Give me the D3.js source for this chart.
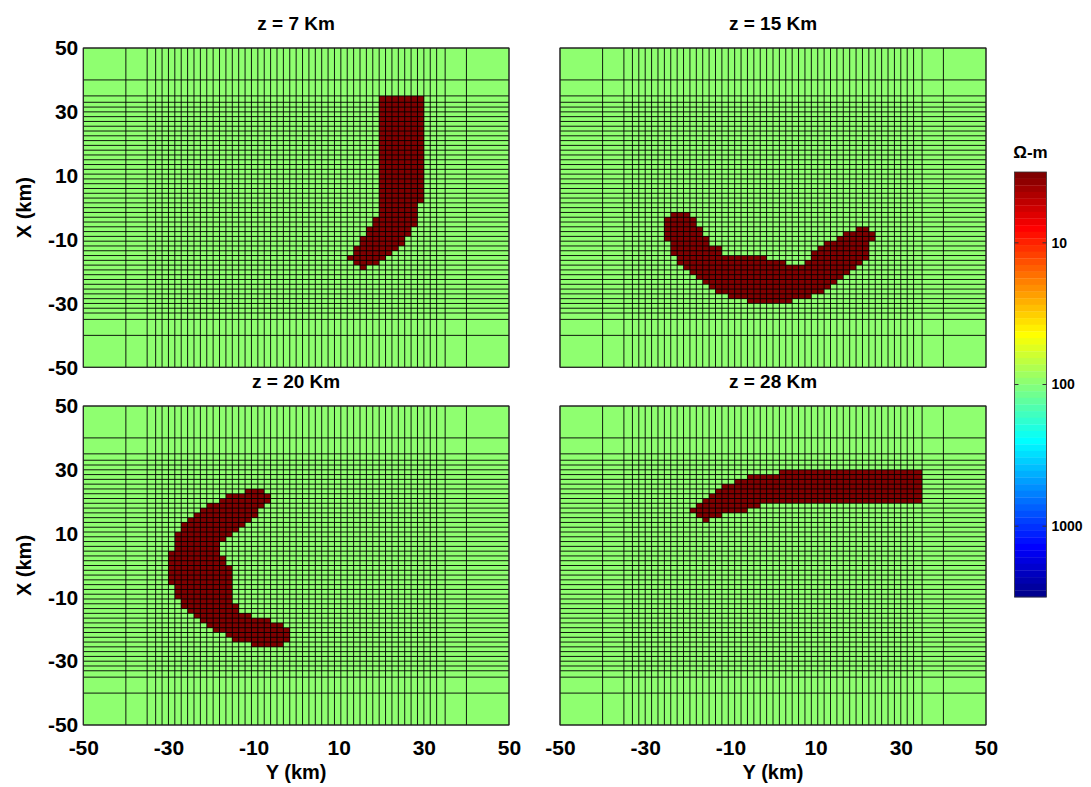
<!DOCTYPE html>
<html>
<head>
<meta charset="utf-8">
<script src="https://cdn.jsdelivr.net/npm/d3@7"></script>
<style>
  body { margin: 0; background: #fff; }
  svg { display: block; font-family: "Liberation Sans", Arial, sans-serif; font-weight: bold; }
</style>
</head>
<body>
<svg id="fig" width="1091" height="787"></svg>
<script>
// Depth slices of the resistivity model (km)
const depths = [7, 15, 20, 28];

// Mesh nodes (km), identical along X and Y: coarse padding around a 1.5 km core
const padLow = [-50, -40, -35];
const padHigh = [35, 40, 50];
const coreStep = 1.5;
const meshNodes = padLow.concat(d3.range(-33, 33 + 1e-6, coreStep), padHigh);

// Tick labels
const axisTicks = [-50, -30, -10, 10, 30, 50];
const colorTicks = [10, 100, 1000];

// Colour limits, log10(ohm-m)
const logLim = [0.5, 3.5];

// Resistivities (ohm-m)
const hostRho = 100;
const bodyRho = 3;

// Conductive body in each slice, one row of cells per entry:
// [X top, X bottom, Y left, Y right] in km
const body7 = [
  [35, 1.5, 19.5, 30],
  [1.5, -3, 19.5, 28.5],
  [-3, -6, 18, 28.5],
  [-6, -9, 16.5, 27],
  [-9, -12, 15, 25.5],
  [-12, -13.5, 13.5, 24],
  [-13.5, -15, 13.5, 22.5],
  [-15, -16.5, 12, 21],
  [-16.5, -18, 13.5, 19.5],
  [-18, -19.5, 15, 16.5]
];
const body15 = [
  [-1.5, -3, -24, -19.5],
  [-3, -6, -25.5, -18],
  [-6, -7.5, -25.5, -16.5], [-6, -7.5, 19.5, 22.5],
  [-7.5, -9, -25.5, -16.5], [-7.5, -9, 16.5, 24],
  [-9, -10.5, -25.5, -15], [-9, -10.5, 15, 24],
  [-10.5, -12, -24, -15], [-10.5, -12, 12, 22.5],
  [-12, -13.5, -24, -12], [-12, -13.5, 10.5, 22.5],
  [-13.5, -15, -24, -12], [-13.5, -15, 9, 22.5],
  [-15, -16.5, -22.5, -1.5], [-15, -16.5, 9, 22.5],
  [-16.5, -18, -22.5, 3], [-16.5, -18, 7.5, 21],
  [-18, -19.5, -21, 19.5],
  [-19.5, -21, -19.5, 18],
  [-21, -22.5, -18, 16.5],
  [-22.5, -24, -16.5, 15],
  [-24, -25.5, -15, 13.5],
  [-25.5, -27, -13.5, 12],
  [-27, -28.5, -10.5, 9],
  [-28.5, -30, -6, 4.5]
];
const body20 = [
  [24, 22.5, -12, -7.5],
  [22.5, 21, -16.5, -6],
  [21, 19.5, -18, -6],
  [19.5, 18, -21, -7.5],
  [18, 16.5, -22.5, -9],
  [16.5, 15, -24, -9],
  [15, 13.5, -25.5, -10.5],
  [13.5, 12, -27, -12],
  [12, 10.5, -27, -13.5],
  [10.5, 9, -28.5, -15],
  [9, 7.5, -28.5, -16.5],
  [7.5, 4.5, -28.5, -18],
  [4.5, 3, -30, -18],
  [3, 0, -30, -16.5],
  [0, -6, -30, -15],
  [-6, -10.5, -28.5, -15],
  [-10.5, -12, -27, -15],
  [-12, -13.5, -27, -13.5],
  [-13.5, -15, -25.5, -13.5],
  [-15, -16.5, -24, -10.5],
  [-16.5, -18, -22.5, -6],
  [-18, -19.5, -21, -3],
  [-19.5, -21, -19.5, -1.5],
  [-21, -22.5, -16.5, -1.5],
  [-22.5, -24, -15, -1.5],
  [-24, -25.5, -10.5, -3]
];
const body28 = [
  [30, 28.5, 1.5, 35],
  [28.5, 27, -6, 35],
  [27, 25.5, -9, 35],
  [25.5, 24, -12, 35],
  [24, 22.5, -13.5, 35],
  [22.5, 21, -15, 35],
  [21, 19.5, -16.5, 35],
  [19.5, 18, -18, -3],
  [18, 16.5, -19.5, -6],
  [16.5, 15, -18, -12],
  [15, 13.5, -16.5, -15]
];
const bodies = [body7, body15, body20, body28];

// ---- jet colormap (64 levels, MATLAB layout) ----
function jetColormap(n) {
  const m = Math.ceil(n / 4);
  const u = [];
  for (let k = 1; k <= m; k++) u.push(k / m);
  for (let k = 1; k <= m - 1; k++) u.push(1);
  for (let k = m; k >= 1; k--) u.push(k / m);
  const off = Math.ceil(m / 2) - (n % 4 === 1 ? 1 : 0);
  const rows = Array.from({ length: n }, () => [0, 0, 0]);
  const L = u.length, g = [], r = [], b = [];
  for (let k = 1; k <= L; k++) {
    const gi = off + k;
    if (gi <= n) g.push(gi);
    if (gi + m <= n) r.push(gi + m);
    if (gi - m >= 1) b.push(gi - m);
  }
  r.forEach((ri, k) => rows[ri - 1][0] = u[k]);
  g.forEach((gi, k) => rows[gi - 1][1] = u[k]);
  b.forEach((bi, k) => rows[bi - 1][2] = u[L - b.length + k]);
  return rows.map(c => d3.rgb(c[0] * 255, c[1] * 255, c[2] * 255).formatHex());
}
const nLevels = 64;
const jet = jetColormap(nLevels);
// low resistivity is red, high is blue
function rhoColour(rho) {
  const s = (logLim[1] - Math.log10(rho)) / (logLim[1] - logLim[0]);
  const i = Math.max(0, Math.min(nLevels - 1, Math.floor(s * nLevels + 1e-9)));
  return jet[i];
}

// ---- layout ----
const svg = d3.select("#fig");
const panels = [
  { x: 83.3, y: 48, w: 425.7, h: 319.3, left: true,  bottom: false },
  { x: 560,  y: 48, w: 426,   h: 319.3, left: false, bottom: false },
  { x: 83.3, y: 406, w: 425.7, h: 319,  left: true,  bottom: true },
  { x: 560,  y: 406, w: 426,   h: 319,  left: false, bottom: true }
];
const plainNumber = d => String(d);

panels.forEach((p, i) => {
  const sy = d3.scaleLinear().domain([-50, 50]).range([p.x, p.x + p.w]);   // Y (east), horizontal
  const sx = d3.scaleLinear().domain([-50, 50]).range([p.y + p.h, p.y]);   // X (north), vertical
  const g = svg.append("g");

  g.append("rect")
    .attr("x", sy(-50)).attr("y", sx(50))
    .attr("width", sy(50) - sy(-50)).attr("height", sx(-50) - sx(50))
    .attr("fill", rhoColour(hostRho));

  g.selectAll("rect.body").data(bodies[i]).join("rect")
    .attr("class", "body")
    .attr("x", d => sy(d[2]))
    .attr("y", d => sx(d[0]))
    .attr("width", d => sy(d[3]) - sy(d[2]))
    .attr("height", d => sx(d[1]) - sx(d[0]))
    .attr("fill", rhoColour(bodyRho))
    .attr("shape-rendering", "crispEdges");

  const grid = g.append("g").attr("stroke", "#000").attr("stroke-width", 0.9);
  grid.selectAll("line.v").data(meshNodes).join("line").attr("class", "v")
    .attr("x1", d => sy(d)).attr("x2", d => sy(d))
    .attr("y1", sx(50)).attr("y2", sx(-50));
  grid.selectAll("line.h").data(meshNodes).join("line").attr("class", "h")
    .attr("y1", d => sx(d)).attr("y2", d => sx(d))
    .attr("x1", sy(-50)).attr("x2", sy(50));

  g.append("rect")
    .attr("x", sy(-50)).attr("y", sx(50))
    .attr("width", sy(50) - sy(-50)).attr("height", sx(-50) - sx(50))
    .attr("fill", "none").attr("stroke", "#2a2a2a").attr("stroke-width", 1);

  if (p.left) {
    const ax = g.append("g").attr("transform", `translate(${sy(-50)},0)`)
      .call(d3.axisLeft(sx).tickValues(axisTicks).tickFormat(plainNumber).tickSize(0).tickPadding(5));
    ax.select(".domain").remove();
    ax.selectAll("text").attr("font-size", 21).attr("font-family", "Liberation Sans, Arial, sans-serif")
      .attr("font-weight", "bold").attr("fill", "#000");
    g.append("text")
      .attr("transform", `translate(31,${(sx(50) + sx(-50)) / 2}) rotate(-90)`)
      .attr("text-anchor", "middle").attr("font-size", 20).text("X (km)");
  }
  if (p.bottom) {
    const ax = g.append("g").attr("transform", `translate(0,${sx(-50)})`)
      .call(d3.axisBottom(sy).tickValues(axisTicks).tickFormat(plainNumber).tickSize(0).tickPadding(15));
    ax.select(".domain").remove();
    ax.selectAll("text").attr("font-size", 21).attr("font-family", "Liberation Sans, Arial, sans-serif")
      .attr("font-weight", "bold").attr("fill", "#000");
    g.append("text")
      .attr("x", (sy(-50) + sy(50)) / 2).attr("y", 779)
      .attr("text-anchor", "middle").attr("font-size", 20).text("Y (km)");
  }

  g.append("text")
    .attr("x", (sy(-50) + sy(50)) / 2).attr("y", sx(50) - 18)
    .attr("text-anchor", "middle").attr("font-size", 19)
    .text(`z = ${depths[i]} Km`);
});

// ---- colour bar ----
const cbX = 1014.5, cbW = 32;
const cb = d3.scaleLog().domain([10 ** logLim[0], 10 ** logLim[1]]).range([172, 597]);
const bandEdges = d3.range(nLevels + 1).map(k => 10 ** (logLim[0] + k * (logLim[1] - logLim[0]) / nLevels));
const cbg = svg.append("g");
cbg.selectAll("rect.band").data(d3.range(nLevels)).join("rect")
  .attr("class", "band")
  .attr("x", cbX).attr("width", cbW)
  .attr("y", k => cb(bandEdges[k]))
  .attr("height", k => cb(bandEdges[k + 1]) - cb(bandEdges[k]) + 0.3)
  .attr("fill", k => jet[nLevels - 1 - k]);
cbg.append("rect")
  .attr("x", cbX).attr("y", cb.range()[0]).attr("width", cbW)
  .attr("height", cb.range()[1] - cb.range()[0])
  .attr("fill", "none").attr("stroke", "#333").attr("stroke-width", 0.8);
cbg.selectAll("line.tl").data(colorTicks).join("line").attr("class", "tl")
  .attr("x1", cbX).attr("x2", cbX + 4).attr("y1", d => cb(d)).attr("y2", d => cb(d))
  .attr("stroke", "#333").attr("stroke-width", 1);
cbg.selectAll("line.tr").data(colorTicks).join("line").attr("class", "tr")
  .attr("x1", cbX + cbW - 4).attr("x2", cbX + cbW).attr("y1", d => cb(d)).attr("y2", d => cb(d))
  .attr("stroke", "#333").attr("stroke-width", 1);
cbg.selectAll("text.tk").data(colorTicks).join("text").attr("class", "tk")
  .attr("x", cbX + cbW + 5).attr("y", d => cb(d)).attr("dy", "0.35em")
  .attr("font-size", 14).text(d => d);
cbg.append("text")
  .attr("x", cbX + cbW / 2).attr("y", 158).attr("text-anchor", "middle")
  .attr("font-size", 17).text("Ω-m");
</script>
</body>
</html>
